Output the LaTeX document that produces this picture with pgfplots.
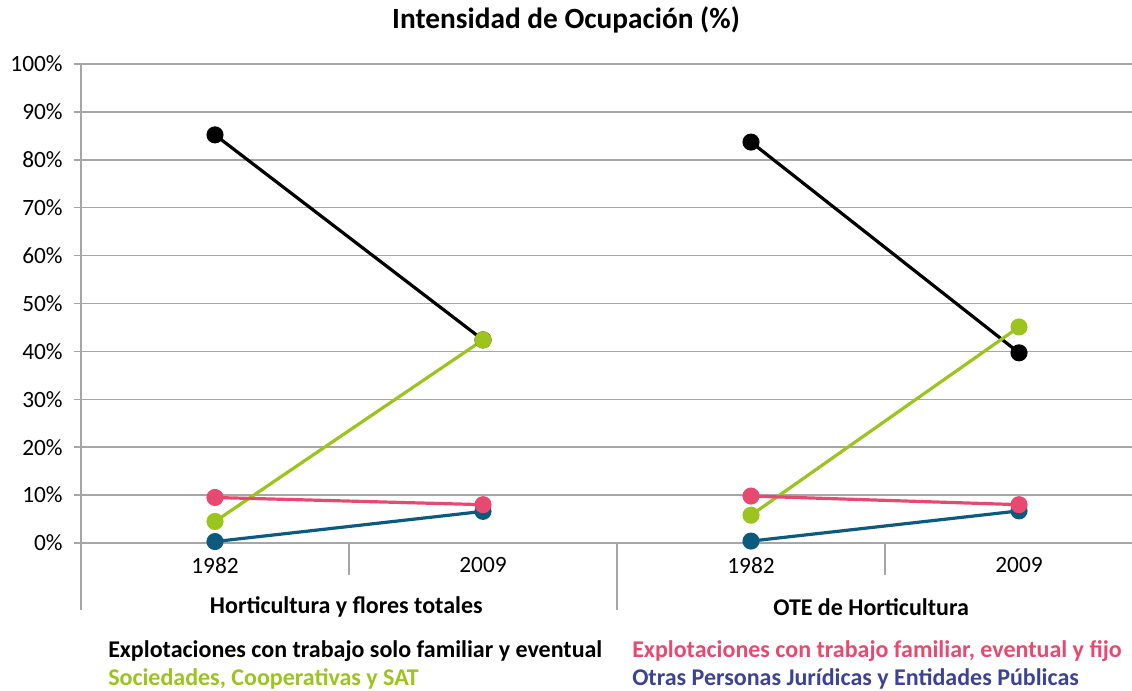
\documentclass[border=0pt]{standalone}
\usepackage{pgfplots}
\pgfplotsset{compat=1.18}
\usepackage{fontspec}
\setmainfont{Carlito}
\usetikzlibrary{calc}

\definecolor{cgreen}{RGB}{155,196,30}
\definecolor{cpink}{RGB}{232,73,112}
\definecolor{cblue}{RGB}{12,90,126}
\definecolor{cindigo}{RGB}{60,66,150}
\definecolor{cgrid}{RGB}{166,166,166}

% x: 0,1 = first group, 2,3 = second group; nan breaks the line between groups
\pgfplotstableread{
x y
0 85.2
1 42.4
1.5 nan
2 83.7
3 39.7
}\blackdata
\pgfplotstableread{
x y
0 9.5
1 8.0
1.5 nan
2 9.8
3 8.0
}\pinkdata
\pgfplotstableread{
x y
0 4.5
1 42.4
1.5 nan
2 5.8
3 45.1
}\greendata
\pgfplotstableread{
x y
0 0.3
1 6.6
1.5 nan
2 0.4
3 6.7
}\bluedata

\begin{document}
\begin{tikzpicture}
\begin{axis}[
    scale only axis,
    width=788.25pt, height=359.25pt,
    xmin=-0.5, xmax=3.4216,
    ymin=0, ymax=100,
    clip=false,
    unbounded coords=jump,
    axis x line=bottom, axis y line=left,
    axis line style={cgrid, line width=1.1pt, -},
    xtick={0,1,2,3},
    xticklabels={1982,2009,1982,2009},
    xtick style={draw=none},
    ytick={0,10,...,100},
    yticklabel={\pgfmathprintnumber{\tick}\%},
    ytick style={cgrid, line width=1.1pt},
    tick align=outside,
    major tick length=5.25pt,
    ymajorgrids=true,
    grid style={cgrid, line width=1.1pt},
    ticklabel style={font=\fontsize{17.5}{20}\selectfont},
    /pgf/number format/assume math mode=true,
    yticklabel style={xshift=-5pt},
    xticklabel style={yshift=-2pt},
    every axis plot/.append style={line width=2.4pt, mark=*, mark size=5.2pt},
]
\addplot[cblue, mark options={fill=cblue}] table {\bluedata};
\addplot[black, mark options={fill=black}] table {\blackdata};
\addplot[cgreen, mark options={fill=cgreen}] table {\greendata};
\addplot[cpink, mark options={fill=cpink}] table {\pinkdata};

% group separators below the axis
\draw[cgrid, line width=1.1pt] (axis cs:-0.5,0) -- ++(0pt,-50.25pt);
\draw[cgrid, line width=1.1pt] (axis cs:1.5,0) -- ++(0pt,-50.25pt);
\draw[cgrid, line width=1.1pt] (axis cs:0.5,0) -- ++(0pt,-24pt);
\draw[cgrid, line width=1.1pt] (axis cs:2.5,0) -- ++(0pt,-24pt);

% group labels
\node[font=\fontsize{18}{21}\selectfont\bfseries, yshift=-48pt] at (axis cs:0.49,0) {Horticultura y flores totales};
\node[font=\fontsize{18}{21}\selectfont\bfseries, yshift=-48pt] at (axis cs:2.448,0) {OTE de Horticultura};

% title
\node[font=\fontsize{22}{26}\selectfont\bfseries, xshift=363.75pt, yshift=33pt] at (rel axis cs:0,1) {Intensidad de Ocupación (\%)};

% legend as coloured text
\node[anchor=west, font=\fontsize{18}{21}\selectfont\bfseries, text=black, xshift=20.25pt, yshift=-81pt, inner sep=0pt] at (rel axis cs:0,0) {Explotaciones con trabajo solo familiar y eventual};
\node[anchor=west, font=\fontsize{18}{21}\selectfont\bfseries, text=cgreen, xshift=20.25pt, yshift=-102pt, inner sep=0pt] at (rel axis cs:0,0) {Sociedades, Cooperativas y SAT};
\node[anchor=west, font=\fontsize{18}{21}\selectfont\bfseries, text=cpink, xshift=413.25pt, yshift=-81pt, inner sep=0pt] at (rel axis cs:0,0) {Explotaciones con trabajo familiar, eventual y fijo};
\node[anchor=west, font=\fontsize{18}{21}\selectfont\bfseries, text=cindigo, xshift=413.25pt, yshift=-102pt, inner sep=0pt] at (rel axis cs:0,0) {Otras Personas Jurídicas y Entidades Públicas};
\end{axis}
\pgfresetboundingbox
\path ($(current axis.south west)+(-60.75pt,-111pt)$) rectangle ($(current axis.north east)+(0pt,48pt)$);
\end{tikzpicture}
\end{document}
